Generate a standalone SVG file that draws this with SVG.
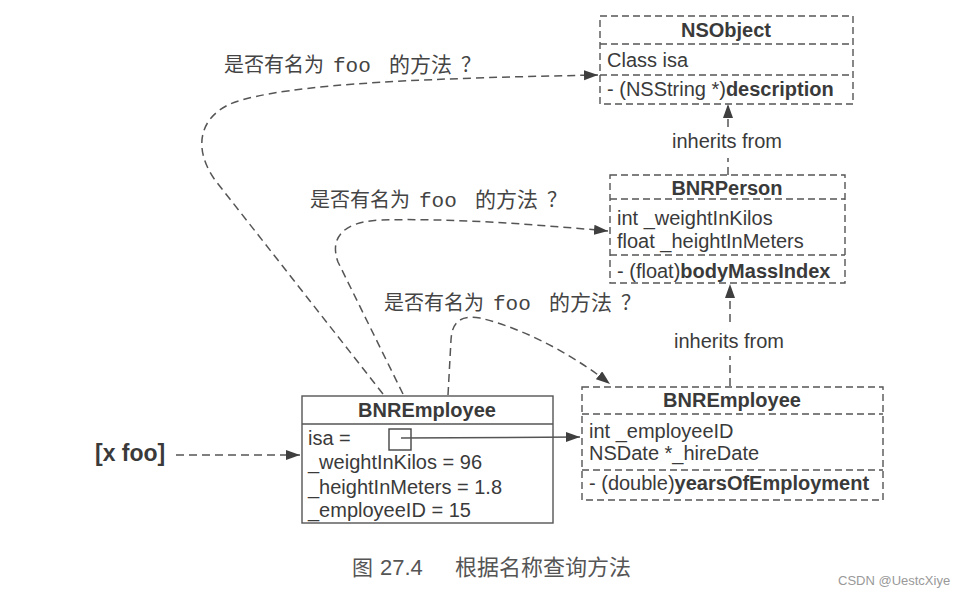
<svg xmlns="http://www.w3.org/2000/svg" width="974" height="598" viewBox="0 0 974 598">
<defs>
<marker id="ah" markerUnits="userSpaceOnUse" markerWidth="15" markerHeight="11" refX="14" refY="5" orient="auto">
<path d="M0,0 L14,5 L0,10 Z" fill="#3f3f3f" stroke="none"/>
</marker>
</defs>
<style>
.box{fill:#fff;stroke:#555;stroke-width:1.4;stroke-dasharray:7 4}
.solid{fill:#fff;stroke:#555;stroke-width:1.4}
.sep{stroke:#555;stroke-width:1.3;stroke-dasharray:7 4}
.sep2{stroke:#555;stroke-width:1.3}
.t{font-family:"Liberation Sans",Arial,sans-serif;font-size:20px;fill:#3a3a3a}
.b{font-weight:bold}
.title{font-family:"Liberation Sans",Arial,sans-serif;font-size:20px;font-weight:bold;fill:#3a3a3a;text-anchor:middle}
.cn{font-family:"Noto Sans CJK SC","Noto Sans",sans-serif;font-size:20px;fill:#444}
.mono{font-family:"Liberation Mono","DejaVu Sans Mono",monospace;font-size:21px;fill:#444}
.con{fill:none;stroke:#555;stroke-width:1.5;stroke-dasharray:8 5;marker-end:url(#ah)}
.con0{fill:none;stroke:#555;stroke-width:1.5;stroke-dasharray:8 5}
.line{fill:none;stroke:#555;stroke-width:1.5;marker-end:url(#ah)}
</style>
<rect width="974" height="598" fill="#fff"/>

<g id="NSObject">
<rect class="box" x="600" y="16" width="253" height="88"/>
<line class="sep" x1="600" y1="44" x2="853" y2="44"/>
<line class="sep" x1="600" y1="75" x2="853" y2="75"/>
<text class="title" x="726" y="37">NSObject</text>
<text class="t" x="607" y="67">Class isa</text>
<text class="t" x="607" y="96">- (NSString *)<tspan class="b">description</tspan></text>
</g>

<g id="BNRPerson">
<rect class="box" x="610" y="175" width="235" height="108"/>
<line class="sep" x1="610" y1="199" x2="845" y2="199"/>
<line class="sep" x1="610" y1="255" x2="845" y2="255"/>
<text class="title" x="727" y="195">BNRPerson</text>
<text class="t" x="617" y="225">int _weightInKilos</text>
<text class="t" x="617" y="248">float _heightInMeters</text>
<text class="t" x="617" y="278">- (float)<tspan class="b">bodyMassIndex</tspan></text>
</g>

<g id="BNREmployeeClass">
<rect class="box" x="582" y="387" width="301" height="113"/>
<line class="sep" x1="582" y1="414" x2="883" y2="414"/>
<line class="sep" x1="582" y1="470" x2="883" y2="470"/>
<text class="title" x="732" y="407">BNREmployee</text>
<text class="t" x="589" y="438">int _employeeID</text>
<text class="t" x="589" y="460">NSDate *_hireDate</text>
<text class="t" x="589" y="490">- (double)<tspan class="b">yearsOfEmployment</tspan></text>
</g>

<g id="BNREmployeeInstance">
<rect class="solid" x="302" y="396" width="251" height="127"/>
<line class="sep2" x1="302" y1="424" x2="553" y2="424"/>
<text class="title" x="427" y="417">BNREmployee</text>
<text class="t" x="308" y="445">isa =</text>
<rect x="389" y="429" width="22" height="21" fill="none" stroke="#444" stroke-width="1.4"/>
<text class="t" x="308" y="469">_weightInKilos = 96</text>
<text class="t" x="308" y="494">_heightInMeters = 1.8</text>
<text class="t" x="308" y="517">_employeeID = 15</text>
</g>

<g id="message">
<text class="t b" x="95" y="461" style="font-size:23px">[x foo]</text>
</g>

<g id="connectors">
<path class="con" d="M 383 394 L 215 180 C 195 152, 196 120, 230 104 C 285 82, 450 78, 598 75"/>
<path class="con" d="M 403 394 L 338 262 C 330 240, 340 222, 380 220 C 450 218, 530 224, 608 231"/>
<path class="con" d="M 448 395 L 451 340 C 452 322, 460 315, 480 318 C 530 330, 580 360, 610 384"/>
<path class="con" d="M 176 455 L 300 455"/>
<path class="line" d="M 401 438 L 580 437"/>
<path class="con0" d="M 728 175 L 728 158"/>
<path class="con" d="M 728 127 L 728 104"/>
<path class="con0" d="M 730 386 L 730 356"/>
<path class="con" d="M 730 322 L 730 284"/>
<text class="t" x="727" y="148" text-anchor="middle">inherits from</text>
<text class="t" x="729" y="348" text-anchor="middle">inherits from</text>
</g>

<g id="label1">
<text class="cn" y="72"><tspan x="224">是否有名为</tspan><tspan class="mono" x="333">foo</tspan><tspan x="389" style="font-size:21px">的方法</tspan><tspan x="461">？</tspan></text>
</g>
<g id="label2">
<text class="cn" y="207"><tspan x="310">是否有名为</tspan><tspan class="mono" x="419">foo</tspan><tspan x="475" style="font-size:21px">的方法</tspan><tspan x="547">？</tspan></text>
</g>
<g id="label3">
<text class="cn" y="310"><tspan x="384">是否有名为</tspan><tspan class="mono" x="493">foo</tspan><tspan x="549" style="font-size:21px">的方法</tspan><tspan x="621">？</tspan></text>
</g>

<g id="caption">
<text class="cn" y="575" style="font-size:21px;fill:#555"><tspan x="352">图</tspan><tspan x="380" style="font-family:'Liberation Sans',Arial,sans-serif;font-size:22px">27.4</tspan><tspan x="455" style="font-size:22px">根据名称查询方法</tspan></text>
<text x="838" y="585" style="font-family:'Liberation Sans',Arial,sans-serif;font-size:13px;fill:#999">CSDN @UestcXiye</text>
</g>
</svg>
